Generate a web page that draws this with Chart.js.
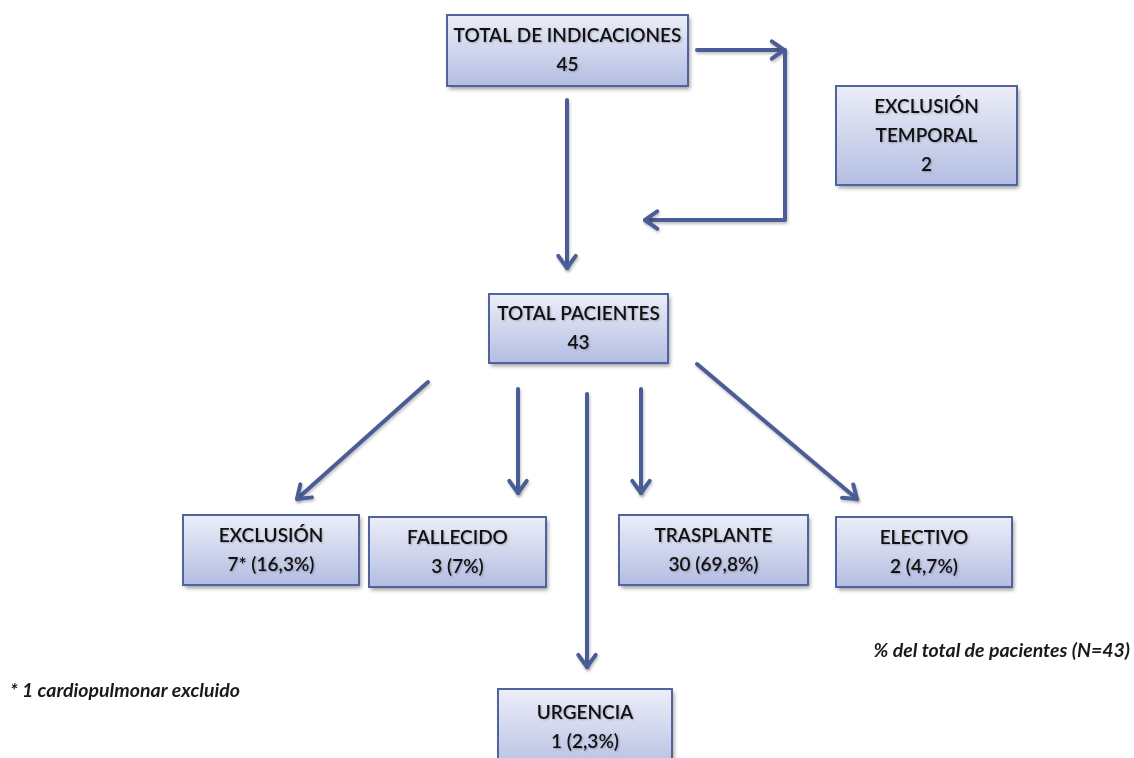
<!DOCTYPE html>
<html>
<head>
<meta charset="utf-8">
<script src="https://cdn.jsdelivr.net/npm/chart.js@4"></script>
<style>
  html, body { margin: 0; padding: 0; background: #ffffff; }
  #wrap { width: 1134px; height: 758px; }
</style>
</head>
<body>
<div id="wrap"><canvas id="flow" width="1134" height="758"></canvas></div>
<script>
// --- data ---
const nodeLabels = ['TOTAL DE INDICACIONES', 'EXCLUSIÓN|TEMPORAL', 'TOTAL PACIENTES', 'EXCLUSIÓN', 'FALLECIDO', 'URGENCIA', 'TRASPLANTE', 'ELECTIVO'];
const nodeCounts = [45, 2, 43, 7, 3, 1, 30, 2];
const nodeMarks = ['', '', '', '*', '', '', '', ''];
const nodePercents = [null, null, null, 16.3, 7, 2.3, 69.8, 4.7];
const footNote = '* 1 cardiopulmonar excluido';
const percentNote = '% del total de pacientes (N=43)';

// --- layout (page units, y down) ---
const boxes = [
    [447, 15, 688, 86],
    [836, 86, 1017, 185],
    [489, 294, 668, 363],
    [183, 515, 359, 585],
    [369, 517, 546, 587],
    [498, 689, 672, 775],
    [619, 515, 808, 585],
    [836, 517, 1012, 587]
];
// each arrow: list of points, the head is on the last one
const arrows = [
    [[567, 100], [567, 268]],
    [[697, 50], [784, 50]],
    [[785, 50], [785, 220], [645, 220]],
    [[428, 382], [297, 499]],
    [[518, 389], [518, 493]],
    [[587, 394], [587, 667]],
    [[641, 389], [641, 493]],
    [[697, 364], [857, 499]]
];

const LINE = '#4a5d96';
const FONT = 'Lato, "Open Sans", sans-serif';

const fmtPct = v => (String(v).replace('.', ','));

const flowPlugin = {
    id: 'flow',
    afterDraw(chart) {
        const ctx = chart.ctx;
        const sx = chart.scales.x, sy = chart.scales.y;
        const px = v => sx.getPixelForValue(v);
        const py = v => sy.getPixelForValue(v);

        // arrows
        ctx.save();
        ctx.strokeStyle = LINE;
        ctx.lineWidth = 4;
        ctx.lineCap = 'round';
        ctx.lineJoin = 'round';
        ctx.shadowColor = 'rgba(0,0,0,0.25)';
        ctx.shadowBlur = 3;
        ctx.shadowOffsetX = 1;
        ctx.shadowOffsetY = 2;
        arrows.forEach(pts => {
            ctx.beginPath();
            pts.forEach((p, i) => i ? ctx.lineTo(px(p[0]), py(p[1])) : ctx.moveTo(px(p[0]), py(p[1])));
            ctx.stroke();
            const a = pts[pts.length - 2], b = pts[pts.length - 1];
            const ang = Math.atan2(py(b[1]) - py(a[1]), px(b[0]) - px(a[0]));
            const L = 15, spread = 0.62;
            ctx.beginPath();
            ctx.moveTo(px(b[0]) - L * Math.cos(ang - spread), py(b[1]) - L * Math.sin(ang - spread));
            ctx.lineTo(px(b[0]), py(b[1]));
            ctx.lineTo(px(b[0]) - L * Math.cos(ang + spread), py(b[1]) - L * Math.sin(ang + spread));
            ctx.stroke();
        });
        ctx.restore();

        // boxes
        boxes.forEach((bx, i) => {
            const x1 = px(bx[0]), y1 = py(bx[1]), x2 = px(bx[2]), y2 = py(bx[3]);
            ctx.save();
            const g = ctx.createLinearGradient(0, y1, 0, y2);
            g.addColorStop(0, '#eceef8');
            g.addColorStop(1, '#b3bde2');
            ctx.shadowColor = 'rgba(0,0,0,0.4)';
            ctx.shadowBlur = 4;
            ctx.shadowOffsetX = 2;
            ctx.shadowOffsetY = 3;
            ctx.fillStyle = g;
            ctx.fillRect(x1, y1, x2 - x1, y2 - y1);
            ctx.shadowColor = 'transparent';
            ctx.strokeStyle = '#50639c';
            ctx.lineWidth = 2;
            ctx.strokeRect(x1, y1, x2 - x1, y2 - y1);

            const lines = nodeLabels[i].split('|');
            let second = nodeCounts[i] + nodeMarks[i];
            if (nodePercents[i] !== null) second += ' (' + fmtPct(nodePercents[i]) + '%)';
            lines.push(second);
            ctx.fillStyle = '#111111';
            ctx.font = '600 19px ' + FONT;
            ctx.textAlign = 'center';
            ctx.textBaseline = 'middle';
            ctx.shadowColor = 'rgba(0,0,0,0.25)';
            ctx.shadowBlur = 2;
            ctx.shadowOffsetX = 1;
            ctx.shadowOffsetY = 1;
            const cx = (x1 + x2) / 2;
            const step = 29;
            const top = i === 5 ? py(bx[1]) + 24 : (y1 + y2) / 2 - step * (lines.length - 1) / 2;
            lines.forEach((t, k) => ctx.fillText(t, cx, top + k * step));
            ctx.restore();
        });

        // notes
        ctx.save();
        ctx.fillStyle = '#1a1a1a';
        ctx.font = 'italic bold 19.5px ' + FONT;
        ctx.textBaseline = 'middle';
        ctx.textAlign = 'left';
        ctx.fillText(footNote, px(10), py(691));
        ctx.textAlign = 'right';
        ctx.fillText(percentNote, px(1130), py(651));
        ctx.restore();
    }
};

new Chart(document.getElementById('flow').getContext('2d'), {
    type: 'scatter',
    data: { datasets: [{ data: [], pointRadius: 0 }] },
    options: {
        responsive: false,
        animation: false,
        layout: { padding: 0 },
        plugins: { legend: { display: false }, tooltip: { enabled: false } },
        scales: {
            x: { type: 'linear', min: 0, max: 1134, display: false },
            y: { type: 'linear', min: 0, max: 758, reverse: true, display: false }
        }
    },
    plugins: [flowPlugin]
});
</script>
</body>
</html>
